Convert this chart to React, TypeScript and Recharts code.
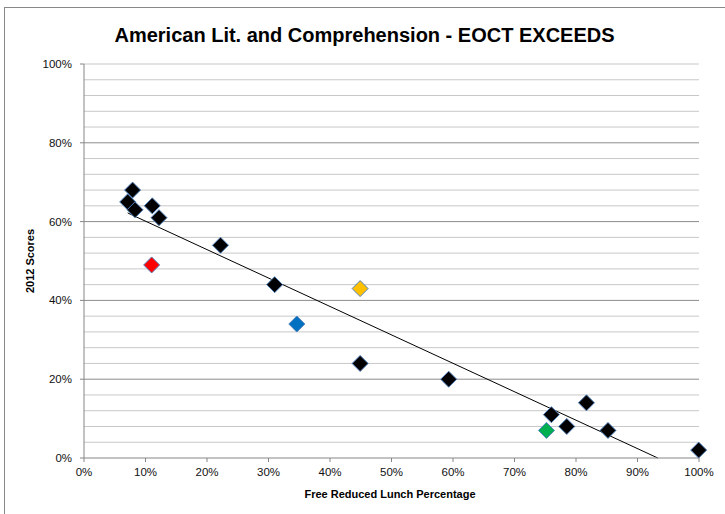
import React from 'react';
import { ScatterChart, Scatter, XAxis, YAxis, ReferenceLine } from 'recharts';

// Free reduced lunch % (x) vs 2012 scores (y)
const blackSchools = [
    { x: 0.079, y: 0.68 },
    { x: 0.071, y: 0.65 },
    { x: 0.083, y: 0.63 },
    { x: 0.111, y: 0.64 },
    { x: 0.122, y: 0.61 },
    { x: 0.222, y: 0.54 },
    { x: 0.31, y: 0.44 },
    { x: 0.449, y: 0.24 },
    { x: 0.593, y: 0.2 },
    { x: 0.76, y: 0.11 },
    { x: 0.785, y: 0.08 },
    { x: 0.817, y: 0.14 },
    { x: 0.852, y: 0.07 },
    { x: 0.9995, y: 0.02 },
];
const redSchool = [{ x: 0.11, y: 0.49 }];
const yellowSchool = [{ x: 0.449, y: 0.43 }];
const blueSchool = [{ x: 0.346, y: 0.34 }];
const greenSchool = [{ x: 0.752, y: 0.07 }];

// trendline ends
const trendStart = { x: 0.071, y: 0.622 };
const trendEnd = { x: 0.933, y: 0 };

const xTicks = [0, 0.1, 0.2, 0.3, 0.4, 0.5, 0.6, 0.7, 0.8, 0.9, 1];
const yTicks = [0, 0.2, 0.4, 0.6, 0.8, 1];
const minorGrid = [0.04, 0.08, 0.12, 0.16, 0.24, 0.28, 0.32, 0.36, 0.44, 0.48, 0.52, 0.56, 0.64, 0.68, 0.72, 0.76, 0.84, 0.88, 0.92, 0.96, 1];
const majorGrid = [0.2, 0.4, 0.6, 0.8];

const font = '"Liberation Sans", Arial, sans-serif';
const pct = (v: number) => `${Math.round(v * 100)}%`;

const diamond = (fill: string) => (props: any) => {
    const { cx, cy } = props;
    const r = 8;
    return (
        <polygon
            points={`${cx},${cy - r} ${cx + r},${cy} ${cx},${cy + r} ${cx - r},${cy}`}
            fill={fill}
            stroke="#4f81bd"
            strokeWidth={1}
        />
    );
};

export default function App() {
    return (
        <div style={{ position: 'absolute', left: 0, top: 0, width: 725, height: 514, background: '#fff', fontFamily: font }}>
            <div style={{ position: 'absolute', left: 4, top: 7, width: 721, height: 507, borderLeft: '1px solid #888', borderTop: '1px solid #888' }} />
            <ScatterChart width={725} height={514} margin={{ top: 64, right: 26, bottom: 0, left: 0 }}>
                <XAxis
                    type="number"
                    dataKey="x"
                    domain={[0, 1]}
                    ticks={xTicks}
                    tickFormatter={pct}
                    height={56}
                    stroke="#868686"
                    tickSize={4}
                    tickMargin={6}
                    tick={{ fill: '#111', fontSize: 11.5, fontFamily: font }}
                />
                <YAxis
                    type="number"
                    dataKey="y"
                    domain={[0, 1]}
                    ticks={yTicks}
                    tickFormatter={pct}
                    width={84}
                    stroke="#868686"
                    tickSize={4}
                    tickMargin={8}
                    tick={{ fill: '#111', fontSize: 11.5, fontFamily: font }}
                />
                {minorGrid.map((v) => (
                    <ReferenceLine key={'m' + v} y={v} stroke="#c8c8c8" strokeWidth={1} />
                ))}
                {majorGrid.map((v) => (
                    <ReferenceLine key={'M' + v} y={v} stroke="#8c8c8c" strokeWidth={1} />
                ))}
                <ReferenceLine segment={[trendStart, trendEnd]} stroke="#000" strokeWidth={1} />
                <Scatter data={redSchool} shape={diamond('#ff0000')} isAnimationActive={false} />
                <Scatter data={yellowSchool} shape={diamond('#ffc000')} isAnimationActive={false} />
                <Scatter data={blueSchool} shape={diamond('#0070c0')} isAnimationActive={false} />
                <Scatter data={greenSchool} shape={diamond('#00b050')} isAnimationActive={false} />
                <Scatter data={blackSchools} shape={diamond('#000000')} isAnimationActive={false} />
            </ScatterChart>
            <div style={{ position: 'absolute', left: 2, width: 725, top: 23, height: 24, lineHeight: '24px', textAlign: 'center', fontWeight: 'bold', fontSize: 20 }}>
                American Lit. and Comprehension - EOCT EXCEEDS
            </div>
            <div style={{ position: 'absolute', left: 30, top: 261, transform: 'translate(-50%, -50%) rotate(-90deg)', whiteSpace: 'nowrap', fontWeight: 'bold', fontSize: 11 }}>
                2012 Scores
            </div>
            <div style={{ position: 'absolute', left: 390, top: 494, transform: 'translate(-50%, -50%)', whiteSpace: 'nowrap', fontWeight: 'bold', fontSize: 11 }}>
                Free Reduced Lunch Percentage
            </div>
        </div>
    );
}
